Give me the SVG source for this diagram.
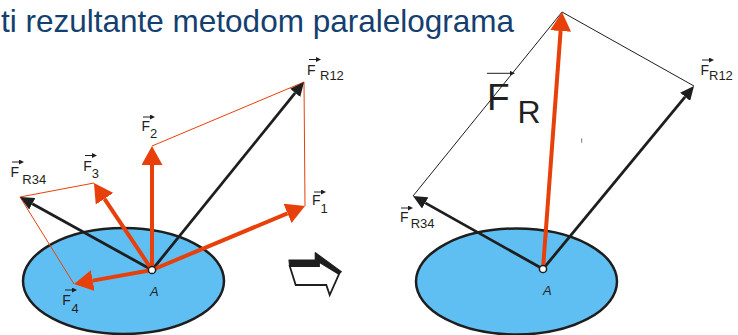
<svg xmlns="http://www.w3.org/2000/svg" width="738" height="335" viewBox="0 0 738 335">
<defs>
<marker id="rh" markerUnits="userSpaceOnUse" viewBox="0 0 19 21" markerWidth="19" markerHeight="21" refX="0" refY="10.5" orient="auto"><path d="M0,0 L19,10.5 L0,21 Z" fill="#e8400a"/></marker>
<marker id="bh" markerUnits="userSpaceOnUse" viewBox="0 0 14 13" markerWidth="14" markerHeight="13" refX="0" refY="6.5" orient="auto"><path d="M0,0 L14,6.5 L0,13 Z" fill="#1e1e1e"/></marker>
<marker id="vh" markerUnits="userSpaceOnUse" viewBox="0 0 5 5" markerWidth="5" markerHeight="5" refX="0" refY="2.5" orient="auto"><path d="M0,0 L5,2.5 L0,5 Z" fill="#1e1e1e"/></marker>
<style>
.body{fill:#60bff2;stroke:#1e1e1e;stroke-width:2.5}
.red{stroke:#e8400a;stroke-width:4;fill:none;marker-end:url(#rh)}
.blk{stroke:#1e1e1e;stroke-width:2.8;fill:none;marker-end:url(#bh)}
.thinr{stroke:#e8400a;stroke-width:1;fill:none}
.thinb{stroke:#1e1e1e;stroke-width:1;fill:none}
.vec{stroke:#1e1e1e;stroke-width:1;fill:none;marker-end:url(#vh)}
.pt{fill:#fff;stroke:#1e1e1e;stroke-width:1.5}
.lbl{font-family:"Liberation Sans",Arial,sans-serif;font-size:14px;fill:#231f20}
.sub{font-size:13px}
.big{font-size:37px}
.bigr{font-size:32px}
.pa{font-family:"Liberation Sans",Arial,sans-serif;font-size:13px;font-style:italic;fill:#231f20}
</style>
</defs>
<rect width="738" height="335" fill="#fff"/>
<g id="title"><text x="1" y="32" font-family="'Liberation Sans',Arial,sans-serif" font-size="31.5" fill="#13406f">ti rezultante metodom paralelograma</text></g>
<g id="body-left"><ellipse class="body" cx="123.5" cy="281" rx="100.5" ry="53"/></g>
<g id="body-right"><ellipse class="body" cx="516.5" cy="281.5" rx="100.5" ry="53"/></g>
<g id="connectors">
<path class="thinr" d="M152,146 L304,82 L305,206"/>
<path class="thinr" d="M94,183 L20,197 L74,284"/>
<line class="blk" x1="152" y1="270" x2="295.2" y2="92.9"/>
<line class="blk" x1="152" y1="270" x2="32.25" y2="203.8"/>
<line class="red" x1="152" y1="270" x2="287.5" y2="213.3"/>
<line class="red" x1="152" y1="270" x2="152" y2="165"/>
<line class="red" x1="152" y1="270" x2="104.5" y2="198.8"/>
<line class="red" x1="152" y1="270" x2="92.7" y2="280.6"/>
<path class="thinb" d="M413,196 L562,12 L694,86"/>
<line class="blk" x1="543" y1="269" x2="685.1" y2="96.8"/>
<line class="blk" x1="543" y1="269" x2="425.2" y2="202.9"/>
<line class="red" x1="543" y1="269" x2="560.6" y2="31"/>
</g>
<g id="point-A-left"><circle class="pt" cx="152" cy="270" r="3.6"/><text class="pa" x="150" y="296">A</text></g>
<g id="point-A-right"><circle class="pt" cx="543" cy="269" r="3.6"/><text class="pa" x="543" y="295">A</text></g>
<g id="label-F1"><line class="vec" x1="314" y1="192" x2="321" y2="192"/><text class="lbl" x="312" y="205">F<tspan class="sub" x="320.5" y="213">1</tspan></text></g>
<g id="label-F2"><line class="vec" x1="143" y1="117" x2="150" y2="117"/><text class="lbl" x="141.5" y="131">F<tspan class="sub" x="150" y="138">2</tspan></text></g>
<g id="label-F3"><line class="vec" x1="85" y1="155.5" x2="92" y2="155.5"/><text class="lbl" x="83.2" y="171">F<tspan class="sub" x="91.8" y="177.5">3</tspan></text></g>
<g id="label-F4"><line class="vec" x1="65" y1="290" x2="72" y2="290"/><text class="lbl" x="62.2" y="305">F<tspan class="sub" x="71.5" y="313">4</tspan></text></g>
<g id="label-FR12-left"><line class="vec" x1="309" y1="59.5" x2="316" y2="59.5"/><text class="lbl" x="307" y="75">F<tspan class="sub" x="320" y="80">R12</tspan></text></g>
<g id="label-FR34-left"><line class="vec" x1="12" y1="162" x2="19" y2="162"/><text class="lbl" x="10.6" y="177">F<tspan class="sub" x="22.3" y="183.5">R34</tspan></text></g>
<g id="label-FR12-right"><line class="vec" x1="702" y1="60" x2="709" y2="60"/><text class="lbl" x="700.5" y="75">F<tspan class="sub" x="709" y="80">R12</tspan></text></g>
<g id="label-FR34-right"><line class="vec" x1="401" y1="208" x2="408" y2="208"/><text class="lbl" x="400" y="222">F<tspan class="sub" x="410.7" y="228.3">R34</tspan></text></g>
<g id="label-FR"><line class="vec" x1="487" y1="73.3" x2="510" y2="73.3"/><text class="lbl big" x="487" y="110">F</text><text class="lbl bigr" x="517.5" y="123">R</text></g>
<line x1="581.7" y1="138.3" x2="581.7" y2="142.7" stroke="#777" stroke-width="1"/>
<g id="hollow-arrow">
<polygon points="289,260 315.3,260 315.3,252.7 341.3,271.7 339,274 319,261.7 319,266 289.7,266" fill="#1e1e1e" stroke="#1e1e1e" stroke-width="1.2" stroke-linejoin="round"/>
<polygon points="289.7,266 319,266 319,261.7 339,274 329.7,295 326.3,285 295.7,285" fill="#fff" stroke="#1e1e1e" stroke-width="1.8" stroke-linejoin="miter"/>
</g>
</svg>
